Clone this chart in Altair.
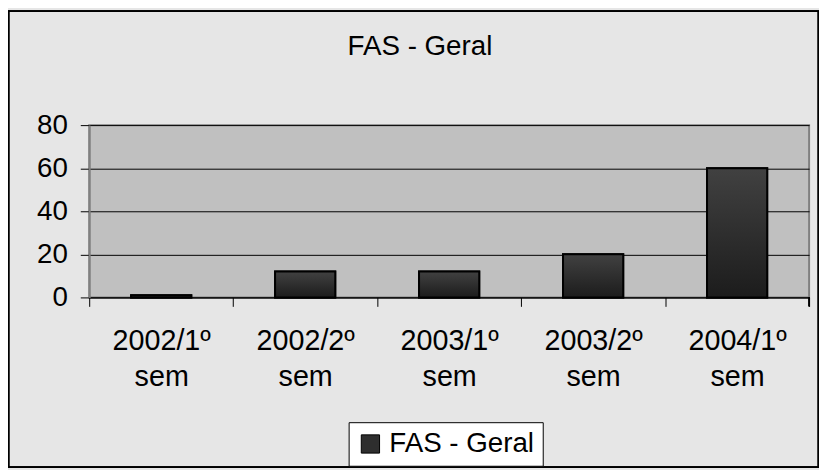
import altair as alt
import pandas as pd

chart_title = "FAS - Geral"
categories = ["2002/1º sem", "2002/2º sem", "2003/1º sem", "2003/2º sem", "2004/1º sem"]
values = [1, 12, 12, 20, 60]
series = ["FAS - Geral"] * 5
y_ticks = [0, 20, 40, 60, 80]

df = pd.DataFrame({"cat": categories, "val": values, "series": series})
title_df = pd.DataFrame({"t": [chart_title]})

FONT = "Liberation Sans"
W, H = 727, 174
PAD = {"left": 82, "top": 116, "right": 10, "bottom": 172}

x_enc = alt.X(
    "cat:N",
    sort=categories,
    scale=alt.Scale(paddingInner=0, paddingOuter=0),
    axis=alt.Axis(
        title=None,
        labelAngle=0,
        labelExpr="split(datum.label, ' ')",
        labelFont=FONT,
        labelFontSize=29,
        labelColor="black",
        labelLineHeight=36,
        labelPadding=21,
        tickBand="extent",
        tickSize=9,
        tickColor="black",
        domainColor="black",
        domainWidth=1,
        grid=False,
    ),
)
y_enc = alt.Y(
    "val:Q",
    scale=alt.Scale(domain=[0, 80]),
    axis=alt.Axis(
        title=None,
        values=y_ticks,
        labelFont=FONT,
        labelFontSize=28,
        labelColor="black",
        labelPadding=13,
        tickSize=9,
        tickColor="black",
        domainColor="#808080",
        domainWidth=2,
        grid=True,
        gridColor="black",
        gridWidth=1,
        gridOpacity=1,
    ),
)

base_bar = alt.Chart(df).mark_bar(
    width=alt.RelativeBandSize(0.418), stroke="black", strokeWidth=2
).encode(
    x=x_enc,
    y=y_enc,
    color=alt.Color(
        "series:N",
        scale=alt.Scale(range=["#2e2e2e"]),
        legend=alt.Legend(
            title=None,
            orient="none",
            legendX=262,
            legendY=300,
            fillColor="white",
            strokeColor="black",
            padding=8,
            labelFont=FONT,
            labelFontSize=28,
            labelColor="black",
            labelOffset=5,
            symbolType="square",
            symbolSize=340,
            symbolStrokeColor="black",
            symbolStrokeWidth=1,
        ),
    ),
)

grad_bar = alt.Chart(df).mark_bar(
    width=alt.RelativeBandSize(0.418),
    stroke="black",
    strokeWidth=2,
    color=alt.Gradient(
        gradient="linear",
        stops=[alt.GradientStop(color="#414141", offset=0), alt.GradientStop(color="#1c1c1c", offset=1)],
        x1=0, x2=0, y1=0, y2=1,
    ),
).encode(x=x_enc, y=y_enc)

end_tick = alt.Chart(df).mark_rule(color="black", strokeWidth=1).encode(
    x=alt.value(W), y=alt.value(H), y2=alt.value(H + 9)
)

frame = alt.Chart(df).mark_rect(fill=None, stroke="black", strokeWidth=1.5).encode(
    x=alt.value(-PAD["left"] + 0.5),
    x2=alt.value(W + PAD["right"] - 0.5),
    y=alt.value(-PAD["top"] + 1),
    y2=alt.value(H + PAD["bottom"] - 0.5),
)

title_text = alt.Chart(title_df).mark_text(
    font=FONT, fontSize=28, color="black", align="center", baseline="alphabetic"
).encode(text="t:N", x=alt.value(334), y=alt.value(-71))

chart = alt.layer(frame, base_bar, grad_bar, end_tick, title_text).properties(
    width=W,
    height=H,
    autosize=alt.AutoSizeParams(type="none"),
    padding=PAD,
    background="#e6e6e6",
).configure_view(fill="#c0c0c0", stroke="#808080", strokeWidth=2)

chart.save("out.html", embed_options={"renderer": "svg", "actions": False})
